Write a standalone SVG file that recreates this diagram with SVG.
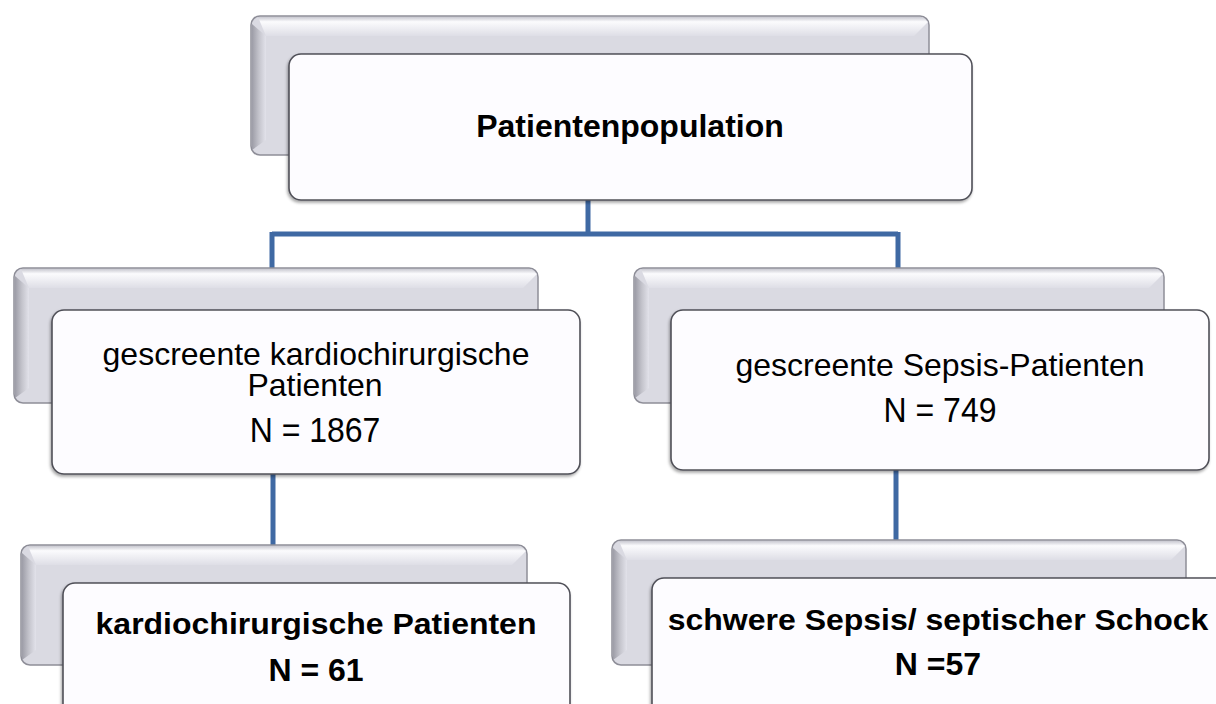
<svg xmlns="http://www.w3.org/2000/svg" width="1216" height="704" viewBox="0 0 1216 704">
  <defs>
    <linearGradient id="bevelTop" x1="0" y1="0" x2="0" y2="1">
      <stop offset="0" stop-color="#c9c9d1"/>
      <stop offset="0.25" stop-color="#fbfbfd"/>
      <stop offset="1" stop-color="#dedee6"/>
    </linearGradient>
    <linearGradient id="bevelLeft" x1="0" y1="0" x2="1" y2="0">
      <stop offset="0" stop-color="#9d9da7"/>
      <stop offset="0.5" stop-color="#c4c4cc"/>
      <stop offset="1" stop-color="#e2e2ea"/>
    </linearGradient>
    <filter id="shadow" x="-5%" y="-5%" width="110%" height="115%">
      <feDropShadow dx="-1" dy="2" stdDeviation="1.5" flood-color="#000" flood-opacity="0.35"/>
    </filter>
  </defs>
  <style>
    .back { fill: #dadae2; stroke: #8e8e98; stroke-width: 1.5; }
    .front { fill: #fdfcff; stroke: #505058; stroke-width: 1.6; filter: url(#shadow); }
    .t { font-family: "Liberation Sans", Arial, sans-serif; font-size: 32px; fill: #000; text-anchor: middle; }
    .b { font-weight: bold; }
    .conn { stroke: #3f69a3; stroke-width: 5; fill: none; }
  </style>
  <rect width="1216" height="704" fill="#ffffff"/>

  <!-- connectors -->
  <g id="connectors">
    <path class="conn" d="M588 200 V234 M272 234 H898 M272 232 V270 M898 232 V270"/>
    <path class="conn" d="M273 474 V547"/>
    <path class="conn" d="M896 470 V542"/>
  </g>

  <!-- top node -->
  <g id="node-population">
    <rect class="back" x="251" y="16" width="678" height="139" rx="9"/>
    <path fill="url(#bevelTop)" d="M258 17 H922 L928 22 L914 36 H266 Z"/>
    <path fill="url(#bevelLeft)" d="M252 24 L266 36 V140 L252 150 Z"/>
    <rect class="front" x="289" y="54" width="683" height="146" rx="12"/>
    <text class="t b" x="630" y="137">Patientenpopulation</text>
  </g>

  <!-- middle left node -->
  <g id="node-cardiac-screened">
    <rect class="back" x="14" y="268" width="524" height="135" rx="9"/>
    <path fill="url(#bevelTop)" d="M21 269 H531 L537 274 L523 288 H29 Z"/>
    <path fill="url(#bevelLeft)" d="M15 276 L29 288 V388 L15 398 Z"/>
    <rect class="front" x="52" y="310" width="528" height="164" rx="12"/>
    <text class="t" x="316" y="365">gescreente kardiochirurgische</text>
    <text class="t" x="315" y="396">Patienten</text>
    <text class="t" transform="translate(315 442) scale(1 1.08)">N = 1867</text>
  </g>

  <!-- middle right node -->
  <g id="node-sepsis-screened">
    <rect class="back" x="634" y="268" width="530" height="135" rx="9"/>
    <path fill="url(#bevelTop)" d="M641 269 H1157 L1163 274 L1149 288 H649 Z"/>
    <path fill="url(#bevelLeft)" d="M635 276 L649 288 V388 L635 398 Z"/>
    <rect class="front" x="671" y="310" width="538" height="160" rx="12"/>
    <text class="t" x="940" y="376">gescreente Sepsis-Patienten</text>
    <text class="t" transform="translate(940 422) scale(1 1.08)">N = 749</text>
  </g>

  <!-- bottom left node -->
  <g id="node-cardiac">
    <rect class="back" x="21" y="545" width="506" height="120" rx="9"/>
    <path fill="url(#bevelTop)" d="M28 546 H520 L526 551 L512 565 H36 Z"/>
    <path fill="url(#bevelLeft)" d="M22 553 L36 565 V650 L22 660 Z"/>
    <rect class="front" x="63" y="583" width="507" height="140" rx="12"/>
    <text class="t b" transform="translate(316 634) scale(1 0.95)">kardiochirurgische Patienten</text>
    <text class="t b" x="316" y="681">N = 61</text>
  </g>

  <!-- bottom right node -->
  <g id="node-sepsis">
    <rect class="back" x="612" y="540" width="574" height="125" rx="9"/>
    <path fill="url(#bevelTop)" d="M619 541 H1179 L1185 546 L1171 560 H627 Z"/>
    <path fill="url(#bevelLeft)" d="M613 548 L627 560 V650 L613 660 Z"/>
    <rect class="front" x="652" y="578" width="580" height="145" rx="12"/>
    <text class="t b" transform="translate(938 630) scale(1 0.95)">schwere Sepsis/ septischer Schock</text>
    <text class="t b" x="938" y="675">N =57</text>
  </g>
</svg>
